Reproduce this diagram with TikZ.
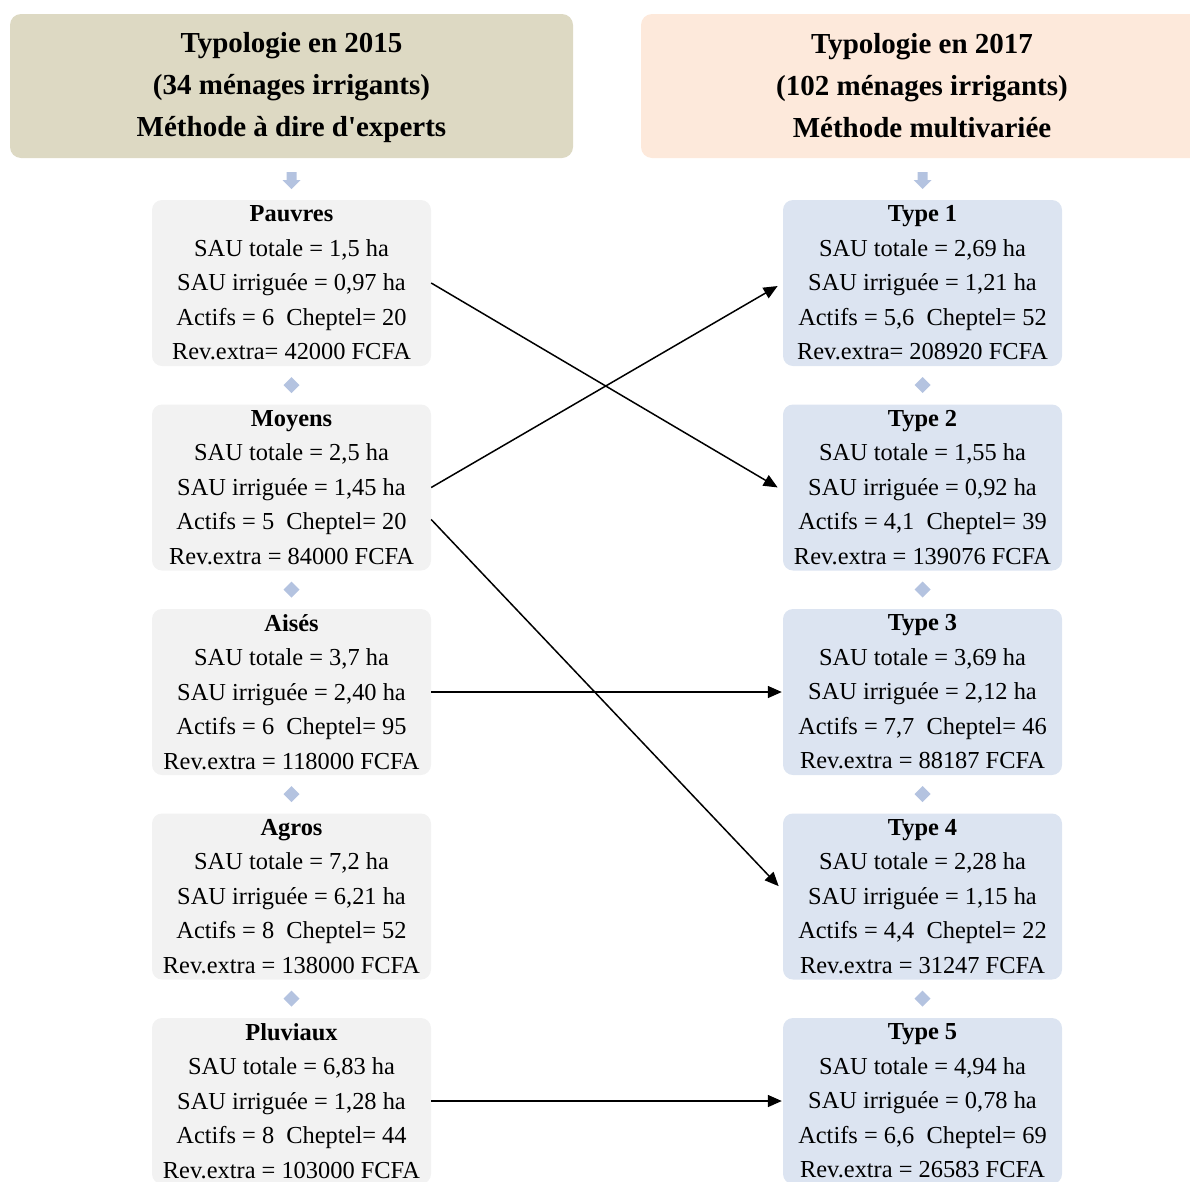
\documentclass[tikz,border=0pt]{standalone}
\usepackage{fontspec}
\setmainfont{Liberation Serif}
\usetikzlibrary{arrows.meta}

\definecolor{headL}{HTML}{DDD9C3}
\definecolor{headR}{HTML}{FDE9DB}
\definecolor{boxL}{HTML}{F2F2F2}
\definecolor{boxR}{HTML}{DCE4F1}
\definecolor{marker}{HTML}{B4C3E0}

\begin{document}
\begin{tikzpicture}[
        x=1pt,y=-1pt,
        head/.style={rounded corners=11pt,minimum width=563pt,minimum height=144pt,inner sep=0pt,
            align=center,font=\fontsize{29}{42}\selectfont\bfseries},
        lbox/.style={fill=boxL,rounded corners=10pt,minimum width=279pt,minimum height=166pt,inner sep=0pt,
            align=center,font=\fontsize{24.4}{34.5}\selectfont},
        rbox/.style={lbox,fill=boxR},
        marker/.style={fill=marker,draw=none},
        link/.style={line width=1.5pt,-{Triangle[length=14pt,width=12pt]},shorten >=1pt}]

    \useasboundingbox (0,0) rectangle (1190,1181);

    % headers
    \node[head,fill=headL] (h2015) at (291.5,86) {Typologie en 2015\\(34 ménages irrigants)\\\raisebox{0pt}[\height][4pt]{Méthode à dire d\textquotesingle experts}};
    \node[head,fill=headR,minimum width=562pt] (h2017) at (922,86) {Typologie en 2017\\(102 ménages irrigants)\\Méthode multivariée};

    % small down arrows under the headers
    \foreach \cx in {291.5,922.5}
        \fill[marker] (\cx-5,172) -- (\cx+5,172) -- (\cx+5,180) -- (\cx+9,180) -- (\cx,189) -- (\cx-9,180) -- (\cx-5,180) -- cycle;

    % 2015 types
    \node[lbox] (pauvres) at (291.5,283) {\textbf{Pauvres}\\SAU totale = 1,5 ha\\SAU irriguée = 0,97 ha\\Actifs = 6\ \ Cheptel= 20\\Rev.extra= 42000 FCFA};
    \node[lbox] (moyens) at (291.5,487.5) {\textbf{Moyens}\\SAU totale = 2,5 ha\\SAU irriguée = 1,45 ha\\Actifs = 5\ \ Cheptel= 20\\Rev.extra = 84000 FCFA};
    \node[lbox] (aises) at (291.5,692) {\textbf{Aisés}\\SAU totale = 3,7 ha\\SAU irriguée = 2,40 ha\\Actifs = 6\ \ Cheptel= 95\\Rev.extra = 118000 FCFA};
    \node[lbox] (agros) at (291.5,896.5) {\textbf{Agros}\\SAU totale = 7,2 ha\\SAU irriguée = 6,21 ha\\Actifs = 8\ \ Cheptel= 52\\Rev.extra = 138000 FCFA};
    \node[lbox] (pluviaux) at (291.5,1101) {\textbf{Pluviaux}\\SAU totale = 6,83 ha\\SAU irriguée = 1,28 ha\\Actifs = 8\ \ Cheptel= 44\\Rev.extra = 103000 FCFA};

    % 2017 types
    \node[rbox] (type1) at (922.5,283) {\textbf{Type 1}\\SAU totale = 2,69 ha\\SAU irriguée = 1,21 ha\\Actifs = 5,6\ \ Cheptel= 52\\Rev.extra= 208920 FCFA};
    \node[rbox] (type2) at (922.5,487.5) {\textbf{Type 2}\\SAU totale = 1,55 ha\\SAU irriguée = 0,92 ha\\Actifs = 4,1\ \ Cheptel= 39\\Rev.extra = 139076 FCFA};
    \node[rbox] (type3) at (922.5,692) {\textbf{Type 3}\\SAU totale = 3,69 ha\\SAU irriguée = 2,12 ha\\Actifs = 7,7\ \ Cheptel= 46\\Rev.extra = 88187 FCFA};
    \node[rbox] (type4) at (922.5,896.5) {\textbf{Type 4}\\SAU totale = 2,28 ha\\SAU irriguée = 1,15 ha\\Actifs = 4,4\ \ Cheptel= 22\\Rev.extra = 31247 FCFA};
    \node[rbox] (type5) at (922.5,1101) {\textbf{Type 5}\\SAU totale = 4,94 ha\\SAU irriguée = 0,78 ha\\Actifs = 6,6\ \ Cheptel= 69\\Rev.extra = 26583 FCFA};

    % diamonds between boxes
    \foreach \cx in {291.5,922.5}
        \foreach \cy in {385,589.5,794,998.5}
            \fill[marker] (\cx,\cy-8) -- (\cx+8,\cy) -- (\cx,\cy+8) -- (\cx-8,\cy) -- cycle;

    % links between typologies
    \draw[link,shorten >=6pt] (pauvres.east) -- ([yshift=-3pt]type2.west);
    \draw[link,shorten >=6pt] (moyens.east) -- (type1.west);
    \draw[link,shorten >=6pt] ([yshift=-32pt]moyens.east) -- ([yshift=6pt]type4.west);
    \draw[link] (aises.east) -- (type3.west);
    \draw[link] (pluviaux.east) -- (type5.west);
\end{tikzpicture}
\end{document}
